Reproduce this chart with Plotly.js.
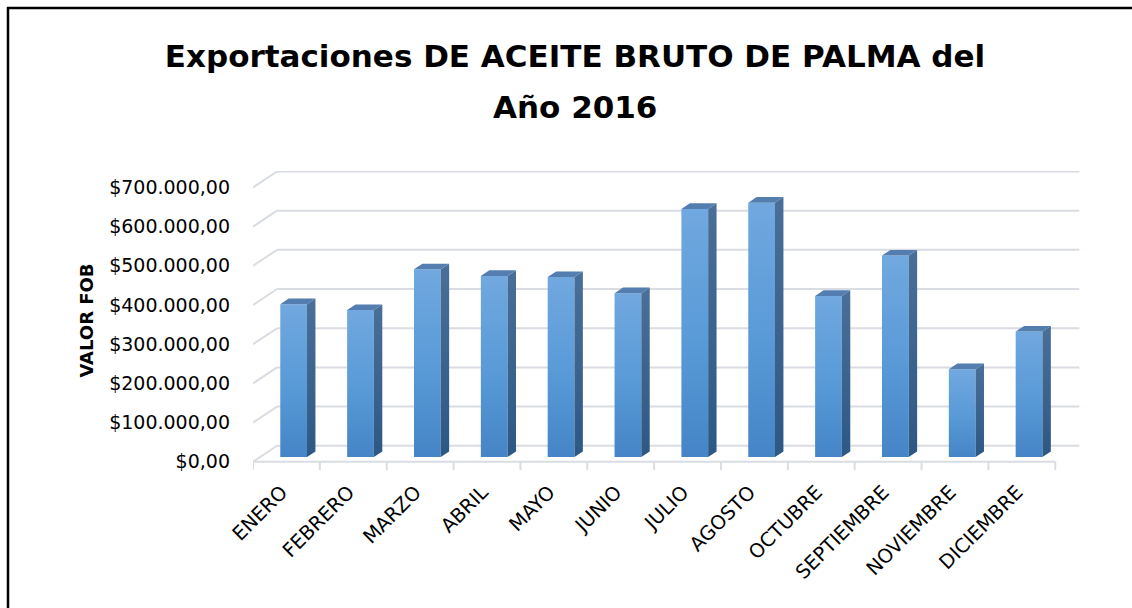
<!DOCTYPE html>
<html>
<head>
<meta charset="utf-8">
<script src="https://cdn.plot.ly/plotly-3.0.1.min.js"></script>
<style>
  html, body { margin: 0; padding: 0; background: #ffffff; }
  #chart { width: 1132px; height: 608px; }
</style>
</head>
<body>
<div id="chart"></div>
<script>
// ---------------- data ----------------
const months = ['ENERO', 'FEBRERO', 'MARZO', 'ABRIL', 'MAYO', 'JUNIO', 'JULIO',
                'AGOSTO', 'OCTUBRE', 'SEPTIEMBRE', 'NOVIEMBRE', 'DICIEMBRE'];
const valorFob = [390000, 375000, 479000, 462000, 459000, 418000, 633000,
                  649000, 411000, 514000, 224000, 320000];
const yTickVals = [0, 100000, 200000, 300000, 400000, 500000, 600000, 700000];
const chartTitle = 'Exportaciones DE ACEITE BRUTO DE PALMA del';
const chartTitleLine2 = 'Año 2016';
const yTitle = 'VALOR FOB';

// ---------------- geometry / style ----------------
const W = 1132, H = 608;
const M = { l: 253, r: 50, t: 171, b: 138 };
const xRange = [0, 12.4];
const yRange = [-21000, 742000];
const depthX = 0.36;      // oblique depth offset, category units
const depthY = 40800;     // oblique depth offset, value units
const barFront = 0.3, barBack = 0.65, barWidth = 0.4;
const labelShift = -0.07;
const gridColor = '#D9DCE3';
const FONT = '"DejaVu Sans", Lato, sans-serif';

const n = months.length;
const plotW = W - M.l - M.r, plotH = H - M.t - M.b;
const pxToPaperX = px => (px - M.l) / plotW;
const pxToPaperY = py => (H - M.b - py) / plotH;

// front faces via bar trace
const barX = months.map((m, i) => i + 0.5 + barFront * depthX);
const barBase = months.map(() => barFront * depthY);
const ddx = (barBack - barFront) * depthX;
const ddy = (barBack - barFront) * depthY;

const traces = [{
  type: 'bar',
  x: barX,
  y: valorFob,
  base: barBase,
  width: barWidth,
  marker: { color: '#5B9BD5', line: { width: 0 } },
  hoverinfo: 'skip',
  showlegend: false
}];

// side faces (one trace per bar for per-bar gradient)
valorFob.forEach((v, i) => {
  const xr = barX[i] + barWidth / 2;
  const b = barBase[i];
  traces.push({
    type: 'scatter', mode: 'lines',
    x: [xr, xr, xr + ddx, xr + ddx, xr],
    y: [b, b + v, b + v + ddy, b + ddy, b],
    fill: 'toself', fillcolor: '#3C6897',
    line: { width: 0, color: 'rgba(0,0,0,0)' },
    hoverinfo: 'skip', showlegend: false
  });
});
// top faces
valorFob.forEach((v, i) => {
  const xl = barX[i] - barWidth / 2, xr = barX[i] + barWidth / 2;
  const t = barBase[i] + v;
  traces.push({
    type: 'scatter', mode: 'lines',
    x: [xl, xr, xr + ddx, xl + ddx, xl],
    y: [t, t, t + ddy, t + ddy, t],
    fill: 'toself', fillcolor: '#537EAF',
    line: { width: 0, color: 'rgba(0,0,0,0)' },
    hoverinfo: 'skip', showlegend: false
  });
});

// walls, floor, gridlines as shapes in data coordinates
const shapes = [];
yTickVals.forEach(v => {
  shapes.push({ type: 'line', xref: 'x', yref: 'y', layer: 'below',
    x0: depthX, y0: v + depthY, x1: n + depthX, y1: v + depthY,
    line: { color: gridColor, width: 2 } });
  shapes.push({ type: 'line', xref: 'x', yref: 'y', layer: 'below',
    x0: 0, y0: v, x1: depthX, y1: v + depthY,
    line: { color: gridColor, width: 2 } });
});
shapes.push({ type: 'line', xref: 'x', yref: 'y', layer: 'below',
  x0: 0, y0: 0, x1: n, y1: 0, line: { color: gridColor, width: 2 } });
for (let i = 0; i <= n; i++) {
  shapes.push({ type: 'line', xref: 'x', yref: 'y', layer: 'below',
    x0: i, y0: 0, x1: i, y1: yRange[0], line: { color: gridColor, width: 2 } });
}
// outer frame (left and top)
shapes.push({ type: 'line', xref: 'paper', yref: 'paper', layer: 'above',
  x0: pxToPaperX(8), y0: pxToPaperY(7), x1: pxToPaperX(8), y1: pxToPaperY(H + 2),
  line: { color: '#000000', width: 2.5 } });
shapes.push({ type: 'line', xref: 'paper', yref: 'paper', layer: 'above',
  x0: pxToPaperX(7), y0: pxToPaperY(8), x1: pxToPaperX(W + 2), y1: pxToPaperY(8),
  line: { color: '#000000', width: 2.5 } });

const layout = {
  width: W, height: H,
  margin: M,
  paper_bgcolor: '#ffffff', plot_bgcolor: 'rgba(0,0,0,0)',
  separators: ',.',
  showlegend: false,
  title: {
    text: chartTitle,
    font: { family: FONT, size: 31, color: '#000000', weight: 'bold' },
    x: 575 / W, xref: 'container', xanchor: 'center',
    y: 1 - 56 / H, yref: 'container', yanchor: 'middle'
  },
  annotations: [{
    text: chartTitleLine2, showarrow: false,
    xref: 'paper', yref: 'paper',
    x: pxToPaperX(575), y: pxToPaperY(107), xanchor: 'center', yanchor: 'middle',
    font: { family: FONT, size: 31, color: '#000000', weight: 'bold' }
  }],
  xaxis: {
    type: 'linear', range: xRange, fixedrange: true,
    tickmode: 'array', tickvals: months.map((m, i) => i + 0.5 + labelShift), ticktext: months,
    tickangle: -45, ticks: '', showgrid: false, zeroline: false, showline: false,
    ticklabelstandoff: 6,
    tickfont: { family: FONT, size: 19.5, color: '#000000' }
  },
  yaxis: {
    type: 'linear', range: yRange, fixedrange: true,
    tickmode: 'array', tickvals: yTickVals, tickformat: '$,.2f',
    ticks: '', showgrid: false, zeroline: false, showline: false,
    ticklabelstandoff: 22,
    tickfont: { family: FONT, size: 19, color: '#000000' },
    title: { text: yTitle, standoff: 10,
      font: { family: FONT, size: 18, color: '#000000', weight: 'bold' } }
  },
  shapes: shapes
};

Plotly.newPlot('chart', traces, layout, { staticPlot: true, displayModeBar: false }).then(gd => {
  try {
    const svg = gd.querySelector('.main-svg');
    const ns = 'http://www.w3.org/2000/svg';
    let defs = svg.querySelector('defs');
    if (!defs) { defs = document.createElementNS(ns, 'defs'); svg.insertBefore(defs, svg.firstChild); }
    const addGrad = (id, stops) => {
      const g = document.createElementNS(ns, 'linearGradient');
      g.setAttribute('id', id);
      g.setAttribute('x1', '0'); g.setAttribute('y1', '0');
      g.setAttribute('x2', '0'); g.setAttribute('y2', '1');
      stops.forEach(([o, c]) => {
        const s = document.createElementNS(ns, 'stop');
        s.setAttribute('offset', o); s.setAttribute('stop-color', c);
        g.appendChild(s);
      });
      defs.appendChild(g);
    };
    addGrad('frontGrad', [['0', '#71A8DF'], ['0.5', '#5A9BD8'], ['1', '#4585C7']]);
    addGrad('sideGrad', [['0', '#4A6F99'], ['1', '#2D5884']]);
    gd.querySelectorAll('.barlayer .point path').forEach(p => { p.style.fill = 'url(#frontGrad)'; });
    gd.querySelectorAll('.scatterlayer .trace').forEach((tr, k) => {
      if (k < n) {
        const f = tr.querySelector('path.js-fill');
        if (f) f.style.fill = 'url(#sideGrad)';
      }
    });
  } catch (e) { /* keep flat colours */ }
});
</script>
</body>
</html>
